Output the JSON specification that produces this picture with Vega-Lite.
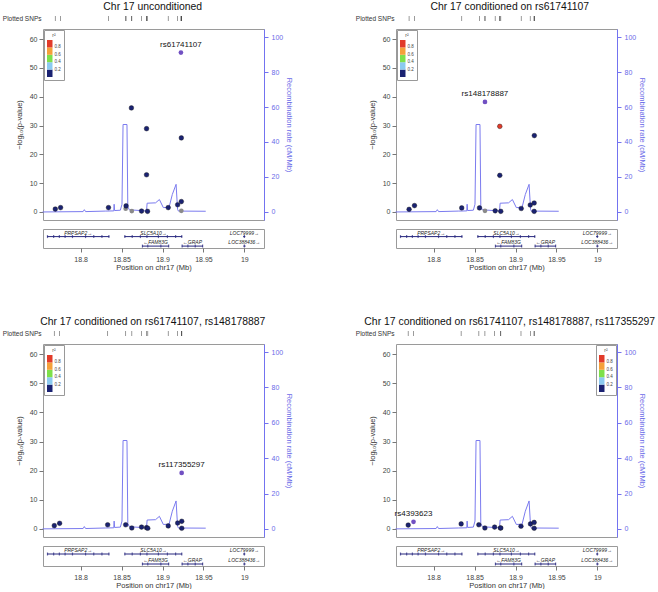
{
  "$schema": "https://vega.github.io/schema/vega-lite/v6.json",
  "padding": {"left": 2, "top": 1, "right": 2, "bottom": 0},
  "background": "white",
  "config": {
    "font": "Liberation Sans",
    "view": {"stroke": "#9a9a9a", "strokeWidth": 1},
    "axis": {"grid": false, "labelFontSize": 7, "labelColor": "#444", "tickColor": "#777", "tickSize": 4, "titleFontSize": 7.5, "titleFontWeight": "normal", "titleColor": "#333", "domain": false},
    "title": {"fontSize": 10.4, "fontWeight": "normal", "anchor": "middle", "offset": 3, "color": "#111"},
    "legend": {"type": "gradient", "direction": "vertical", "gradientLength": 37, "gradientThickness": 5.5, "labelFontSize": 4.5, "titleFontSize": 5, "titleFontWeight": "normal", "labelColor": "#444", "titleColor": "#444", "padding": 3, "strokeColor": "#999", "fillColor": "white", "offset": 1, "labelOverlap": false, "titlePadding": 2, "titleAnchor": "middle", "labelOffset": 2}
  },
  "datasets": {
    "snps": [
      {"p": 1, "pos": 18.769, "logp": 1.0, "r2": 0.1},
      {"p": 1, "pos": 18.7755, "logp": 1.5, "r2": 0.1},
      {"p": 1, "pos": 18.834, "logp": 1.5, "r2": 0.1},
      {"p": 1, "pos": 18.855, "logp": 1.1, "r2": null},
      {"p": 1, "pos": 18.8555, "logp": 2.1, "r2": 0.1},
      {"p": 1, "pos": 18.862, "logp": 36.1, "r2": 0.1},
      {"p": 1, "pos": 18.8625, "logp": 0.3, "r2": null},
      {"p": 1, "pos": 18.8744, "logp": 0.3, "r2": 0.1},
      {"p": 1, "pos": 18.8817, "logp": 0.2, "r2": 0.1},
      {"p": 1, "pos": 18.8805, "logp": 12.9, "r2": 0.1},
      {"p": 1, "pos": 18.8805, "logp": 28.9, "r2": 0.1},
      {"p": 1, "pos": 18.907, "logp": 1.5, "r2": 0.1},
      {"p": 1, "pos": 18.9185, "logp": 2.5, "r2": 0.1},
      {"p": 1, "pos": 18.923, "logp": 3.6, "r2": 0.1},
      {"p": 1, "pos": 18.923, "logp": 0.4, "r2": null},
      {"p": 1, "pos": 18.923, "logp": 25.7, "r2": 0.1},
      {"p": 1, "pos": 18.9225, "logp": 55.3, "r2": 1, "ref": true, "label": "rs61741107"},
      {"p": 2, "pos": 18.770, "logp": 0.9, "r2": 0.1},
      {"p": 2, "pos": 18.7766, "logp": 2.2, "r2": 0.1},
      {"p": 2, "pos": 18.8343, "logp": 1.4, "r2": 0.1},
      {"p": 2, "pos": 18.856, "logp": 1.4, "r2": 0.1},
      {"p": 2, "pos": 18.8627, "logp": 0.4, "r2": null},
      {"p": 2, "pos": 18.8627, "logp": 38.2, "r2": 1, "ref": true, "label": "rs148178887"},
      {"p": 2, "pos": 18.8752, "logp": 0.4, "r2": 0.1},
      {"p": 2, "pos": 18.882, "logp": 0.2, "r2": 0.1},
      {"p": 2, "pos": 18.8808, "logp": 12.7, "r2": 0.1},
      {"p": 2, "pos": 18.8808, "logp": 29.7, "r2": 0.9},
      {"p": 2, "pos": 18.907, "logp": 1.2, "r2": 0.1},
      {"p": 2, "pos": 18.918, "logp": 2.4, "r2": 0.1},
      {"p": 2, "pos": 18.9228, "logp": 3.1, "r2": 0.1},
      {"p": 2, "pos": 18.9228, "logp": 0.2, "r2": 0.1},
      {"p": 2, "pos": 18.923, "logp": 26.5, "r2": 0.1},
      {"p": 3, "pos": 18.7678, "logp": 1.1, "r2": 0.1},
      {"p": 3, "pos": 18.7743, "logp": 1.9, "r2": 0.1},
      {"p": 3, "pos": 18.833, "logp": 1.4, "r2": 0.1},
      {"p": 3, "pos": 18.855, "logp": 1.4, "r2": 0.1},
      {"p": 3, "pos": 18.8625, "logp": 0.3, "r2": 0.1},
      {"p": 3, "pos": 18.8744, "logp": 0.6, "r2": 0.1},
      {"p": 3, "pos": 18.8805, "logp": 0.4, "r2": 0.1},
      {"p": 3, "pos": 18.882, "logp": 0.2, "r2": 0.1},
      {"p": 3, "pos": 18.907, "logp": 1.0, "r2": 0.1},
      {"p": 3, "pos": 18.9185, "logp": 2.0, "r2": 0.1},
      {"p": 3, "pos": 18.9235, "logp": 2.6, "r2": 0.1},
      {"p": 3, "pos": 18.9235, "logp": 0.2, "r2": 0.1},
      {"p": 3, "pos": 18.9234, "logp": 19.2, "r2": 1, "ref": true, "label": "rs117355297"},
      {"p": 4, "pos": 18.7689, "logp": 1.3, "r2": 0.1},
      {"p": 4, "pos": 18.7754, "logp": 2.4, "r2": 1, "ref": true, "label": "rs4393623"},
      {"p": 4, "pos": 18.8336, "logp": 1.7, "r2": 0.1},
      {"p": 4, "pos": 18.8552, "logp": 1.4, "r2": 0.1},
      {"p": 4, "pos": 18.8626, "logp": 0.3, "r2": 0.1},
      {"p": 4, "pos": 18.8745, "logp": 0.6, "r2": 0.1},
      {"p": 4, "pos": 18.8816, "logp": 0.3, "r2": 0.1},
      {"p": 4, "pos": 18.882, "logp": 0.3, "r2": 0.1},
      {"p": 4, "pos": 18.9067, "logp": 0.9, "r2": 0.1},
      {"p": 4, "pos": 18.9183, "logp": 1.7, "r2": 0.1},
      {"p": 4, "pos": 18.9228, "logp": 2.2, "r2": 0.1},
      {"p": 4, "pos": 18.9228, "logp": 0.2, "r2": 0.1}
    ],
    "recomb": [
      {"pos": 18.7535, "rate": 0.0},
      {"pos": 18.803, "rate": 0.2},
      {"pos": 18.8045, "rate": 1.3},
      {"pos": 18.806, "rate": 0.2},
      {"pos": 18.83, "rate": 0.5},
      {"pos": 18.8405, "rate": 0.6},
      {"pos": 18.8409, "rate": 4.4},
      {"pos": 18.8415, "rate": 0.8},
      {"pos": 18.8485, "rate": 1.0},
      {"pos": 18.8505, "rate": 4.4},
      {"pos": 18.8518, "rate": 50},
      {"pos": 18.8566, "rate": 50},
      {"pos": 18.8576, "rate": 3.0},
      {"pos": 18.8595, "rate": 1.2},
      {"pos": 18.8805, "rate": 0.6},
      {"pos": 18.8812, "rate": 5.0},
      {"pos": 18.8915, "rate": 5.2},
      {"pos": 18.8962, "rate": 7.1},
      {"pos": 18.901, "rate": 2.5},
      {"pos": 18.908, "rate": 2.6},
      {"pos": 18.912, "rate": 10.0},
      {"pos": 18.9166, "rate": 15.8},
      {"pos": 18.9184, "rate": 1.5},
      {"pos": 18.9195, "rate": 0.5},
      {"pos": 18.9528, "rate": 0.4}
    ],
    "genes": [
      {"gene": "PRPSAP2", "start": 18.759, "end": 18.835, "row": 1, "mid": 18.797, "label": "PRPSAP2→"},
      {"gene": "SLC5A10", "start": 18.8535, "end": 18.924, "row": 1, "mid": 18.889, "label": "SLC5A10→"},
      {"gene": "FAM83G", "start": 18.875, "end": 18.908, "row": 2, "mid": 18.8915, "label": "←FAM83G"},
      {"gene": "GRAP", "start": 18.9235, "end": 18.9495, "row": 2, "mid": 18.9365, "label": "←GRAP"},
      {"gene": "LOC79999", "start": 18.9985, "end": 19.0012, "row": 1, "mid": 19.0, "label": "LOC79999→"},
      {"gene": "LOC388436", "start": 18.9988, "end": 19.0015, "row": 2, "mid": 19.0, "label": "LOC388436→"}
    ],
    "exons": [
      {"pos": 18.7595, "row": 1}, {"pos": 18.767, "row": 1}, {"pos": 18.774, "row": 1}, {"pos": 18.781, "row": 1},
      {"pos": 18.79, "row": 1}, {"pos": 18.806, "row": 1}, {"pos": 18.816, "row": 1}, {"pos": 18.826, "row": 1}, {"pos": 18.8345, "row": 1},
      {"pos": 18.854, "row": 1}, {"pos": 18.863, "row": 1}, {"pos": 18.873, "row": 1}, {"pos": 18.881, "row": 1},
      {"pos": 18.895, "row": 1}, {"pos": 18.906, "row": 1}, {"pos": 18.916, "row": 1}, {"pos": 18.9235, "row": 1},
      {"pos": 18.8755, "row": 2}, {"pos": 18.882, "row": 2}, {"pos": 18.898, "row": 2}, {"pos": 18.9075, "row": 2},
      {"pos": 18.924, "row": 2}, {"pos": 18.931, "row": 2}, {"pos": 18.94, "row": 2}, {"pos": 18.949, "row": 2},
      {"pos": 19.0, "row": 1}, {"pos": 19.0, "row": 2}
    ]
  },
  "spacing": 45,
  "resolve": {"scale": {"color": "independent"}, "legend": {"color": "independent"}},
  "vconcat": [
    {
      "hconcat": [
        {
          "title": {"text": "Chr 17 unconditioned", "dx": 5},
          "spacing": 6,
          "resolve": {"scale": {"color": "independent"}, "legend": {"color": "independent"}},
          "vconcat": [
            {
              "width": 221, "height": 5,
              "view": {"stroke": null},
              "data": {"name": "snps"},
              "transform": [{"filter": "datum.p == 1"}],
              "mark": {"type": "tick", "orient": "vertical", "color": "#333", "thickness": 0.7, "size": 5},
              "encoding": {
                "x": {"field": "pos", "type": "quantitative", "scale": {"domain": [18.754, 19.024], "nice": false, "zero": false}, "axis": null},
                "y": {"datum": "Plotted SNPs", "type": "nominal", "axis": {"title": null, "ticks": false, "labelFontSize": 6.5, "labelColor": "#333", "labelPadding": 2}}
              }
            },
            {
              "spacing": 7,
              "resolve": {"scale": {"color": "independent"}, "legend": {"color": "independent"}},
              "vconcat": [
                {
                  "width": 221, "height": 191,
                  "resolve": {"scale": {"y": "independent"}},
                  "layer": [
                    {
                      "data": {"name": "recomb"},
                      "mark": {"type": "line", "color": "#7b7bef", "strokeWidth": 1},
                      "encoding": {
                        "x": {"field": "pos", "type": "quantitative", "scale": {"domain": [18.754, 19.024], "nice": false, "zero": false}, "axis": null},
                        "y": {"field": "rate", "type": "quantitative", "scale": {"domain": [-4.6, 104.6], "nice": false, "zero": false}, "axis": {"orient": "right", "values": [0, 20, 40, 60, 80, 100], "title": "Recombination rate (cM/Mb)", "domain": true, "domainColor": "#7373f0", "tickColor": "#7373f0", "labelColor": "#6a6ae8", "titleColor": "#6a6ae8", "labelPadding": 3, "titlePadding": 2}}
                      }
                    },
                    {
                      "data": {"name": "snps"},
                      "transform": [{"filter": "datum.p == 1"}],
                      "encoding": {
                        "x": {"field": "pos", "type": "quantitative", "scale": {"domain": [18.754, 19.024], "nice": false, "zero": false}, "axis": null},
                        "y": {"field": "logp", "type": "quantitative", "scale": {"domain": [-2.8, 63.5], "nice": false, "zero": false}, "axis": {"orient": "left", "values": [0, 10, 20, 30, 40, 50, 60], "title": "−log₁₀(p-value)", "titlePadding": 6}}
                      },
                      "layer": [
                        {"transform": [{"filter": "datum.r2 == null"}], "mark": {"type": "circle", "size": 22, "opacity": 1, "color": "#8a8a8a"}},
                        {"transform": [{"filter": "datum.r2 != null && !datum.ref"}], "mark": {"type": "circle", "size": 22, "opacity": 1, "stroke": "#111", "strokeWidth": 0.4},
                         "encoding": {"color": {"field": "r2", "type": "quantitative", "scale": {"type": "threshold", "domain": [0.2, 0.4, 0.6, 0.8], "range": ["#1a2272", "#8ccaf0", "#7ee04a", "#f5a03a", "#e23b2a"]}, "legend": {"title": "r²", "orient": "top-left"}}}},
                        {"transform": [{"filter": "datum.ref"}], "mark": {"type": "circle", "size": 22, "opacity": 1, "color": "#7150c2"}},
                        {"transform": [{"filter": "datum.ref"}], "mark": {"type": "text", "dy": -8, "fontSize": 8, "color": "#111"}, "encoding": {"text": {"field": "label"}}}
                      ]
                    }
                  ]
                },
                {
                  "width": 221, "height": 19,
                  "layer": [
                    {
                      "data": {"name": "genes"},
                      "mark": {"type": "rule", "color": "#26267e", "strokeWidth": 1},
                      "encoding": {
                        "x": {"field": "start", "type": "quantitative", "scale": {"domain": [18.754, 19.024], "nice": false, "zero": false}, "axis": {"values": [18.8, 18.85, 18.9, 18.95, 19], "format": "~g", "title": "Position on chr17 (Mb)", "labelPadding": 3, "titlePadding": 1}},
                        "x2": {"field": "end"},
                        "y": {"field": "row", "type": "quantitative", "scale": {"domain": [0.3, 2.15], "reverse": true}, "axis": null}
                      }
                    },
                    {
                      "data": {"name": "exons"},
                      "mark": {"type": "tick", "orient": "vertical", "color": "#26267e", "size": 3, "thickness": 1.2},
                      "encoding": {"x": {"field": "pos", "type": "quantitative"}, "y": {"field": "row", "type": "quantitative"}}
                    },
                    {
                      "data": {"name": "genes"},
                      "mark": {"type": "text", "fontSize": 5, "fontStyle": "italic", "dy": -4, "color": "#222"},
                      "encoding": {"x": {"field": "mid", "type": "quantitative"}, "y": {"field": "row", "type": "quantitative"}, "text": {"field": "label"}}
                    }
                  ]
                }
              ]
            }
          ]
        },
        {
          "title": {"text": "Chr 17 conditioned on rs61741107", "dx": 9},
          "spacing": 6,
          "resolve": {"scale": {"color": "independent"}, "legend": {"color": "independent"}},
          "vconcat": [
            {
              "width": 221, "height": 5,
              "view": {"stroke": null},
              "data": {"name": "snps"},
              "transform": [{"filter": "datum.p == 2"}],
              "mark": {"type": "tick", "orient": "vertical", "color": "#333", "thickness": 0.7, "size": 5},
              "encoding": {
                "x": {"field": "pos", "type": "quantitative", "scale": {"domain": [18.754, 19.024], "nice": false, "zero": false}, "axis": null},
                "y": {"datum": "Plotted SNPs", "type": "nominal", "axis": {"title": null, "ticks": false, "labelFontSize": 6.5, "labelColor": "#333", "labelPadding": 2}}
              }
            },
            {
              "spacing": 7,
              "resolve": {"scale": {"color": "independent"}, "legend": {"color": "independent"}},
              "vconcat": [
                {
                  "width": 221, "height": 191,
                  "resolve": {"scale": {"y": "independent"}},
                  "layer": [
                    {
                      "data": {"name": "recomb"},
                      "mark": {"type": "line", "color": "#7b7bef", "strokeWidth": 1},
                      "encoding": {
                        "x": {"field": "pos", "type": "quantitative", "scale": {"domain": [18.754, 19.024], "nice": false, "zero": false}, "axis": null},
                        "y": {"field": "rate", "type": "quantitative", "scale": {"domain": [-4.6, 104.6], "nice": false, "zero": false}, "axis": {"orient": "right", "values": [0, 20, 40, 60, 80, 100], "title": "Recombination rate (cM/Mb)", "domain": true, "domainColor": "#7373f0", "tickColor": "#7373f0", "labelColor": "#6a6ae8", "titleColor": "#6a6ae8", "labelPadding": 3, "titlePadding": 2}}
                      }
                    },
                    {
                      "data": {"name": "snps"},
                      "transform": [{"filter": "datum.p == 2"}],
                      "encoding": {
                        "x": {"field": "pos", "type": "quantitative", "scale": {"domain": [18.754, 19.024], "nice": false, "zero": false}, "axis": null},
                        "y": {"field": "logp", "type": "quantitative", "scale": {"domain": [-2.8, 63.5], "nice": false, "zero": false}, "axis": {"orient": "left", "values": [0, 10, 20, 30, 40, 50, 60], "title": "−log₁₀(p-value)", "titlePadding": 6}}
                      },
                      "layer": [
                        {"transform": [{"filter": "datum.r2 == null"}], "mark": {"type": "circle", "size": 22, "opacity": 1, "color": "#8a8a8a"}},
                        {"transform": [{"filter": "datum.r2 != null && !datum.ref"}], "mark": {"type": "circle", "size": 22, "opacity": 1, "stroke": "#111", "strokeWidth": 0.4},
                         "encoding": {"color": {"field": "r2", "type": "quantitative", "scale": {"type": "threshold", "domain": [0.2, 0.4, 0.6, 0.8], "range": ["#1a2272", "#8ccaf0", "#7ee04a", "#f5a03a", "#e23b2a"]}, "legend": {"title": "r²", "orient": "top-left"}}}},
                        {"transform": [{"filter": "datum.ref"}], "mark": {"type": "circle", "size": 22, "opacity": 1, "color": "#7150c2"}},
                        {"transform": [{"filter": "datum.ref"}], "mark": {"type": "text", "dy": -8, "fontSize": 8, "color": "#111"}, "encoding": {"text": {"field": "label"}}}
                      ]
                    }
                  ]
                },
                {
                  "width": 221, "height": 19,
                  "layer": [
                    {
                      "data": {"name": "genes"},
                      "mark": {"type": "rule", "color": "#26267e", "strokeWidth": 1},
                      "encoding": {
                        "x": {"field": "start", "type": "quantitative", "scale": {"domain": [18.754, 19.024], "nice": false, "zero": false}, "axis": {"values": [18.8, 18.85, 18.9, 18.95, 19], "format": "~g", "title": "Position on chr17 (Mb)", "labelPadding": 3, "titlePadding": 1}},
                        "x2": {"field": "end"},
                        "y": {"field": "row", "type": "quantitative", "scale": {"domain": [0.3, 2.15], "reverse": true}, "axis": null}
                      }
                    },
                    {
                      "data": {"name": "exons"},
                      "mark": {"type": "tick", "orient": "vertical", "color": "#26267e", "size": 3, "thickness": 1.2},
                      "encoding": {"x": {"field": "pos", "type": "quantitative"}, "y": {"field": "row", "type": "quantitative"}}
                    },
                    {
                      "data": {"name": "genes"},
                      "mark": {"type": "text", "fontSize": 5, "fontStyle": "italic", "dy": -4, "color": "#222"},
                      "encoding": {"x": {"field": "mid", "type": "quantitative"}, "y": {"field": "row", "type": "quantitative"}, "text": {"field": "label"}}
                    }
                  ]
                }
              ]
            }
          ]
        }
      ],
      "spacing": 61,
      "resolve": {"scale": {"color": "independent"}, "legend": {"color": "independent"}}
    },
    {
      "hconcat": [
        {
          "title": {"text": "Chr 17 conditioned on rs61741107, rs148178887", "dx": 5},
          "spacing": 6,
          "resolve": {"scale": {"color": "independent"}, "legend": {"color": "independent"}},
          "vconcat": [
            {
              "width": 221, "height": 5,
              "view": {"stroke": null},
              "data": {"name": "snps"},
              "transform": [{"filter": "datum.p == 3"}],
              "mark": {"type": "tick", "orient": "vertical", "color": "#333", "thickness": 0.7, "size": 5},
              "encoding": {
                "x": {"field": "pos", "type": "quantitative", "scale": {"domain": [18.754, 19.024], "nice": false, "zero": false}, "axis": null},
                "y": {"datum": "Plotted SNPs", "type": "nominal", "axis": {"title": null, "ticks": false, "labelFontSize": 6.5, "labelColor": "#333", "labelPadding": 2}}
              }
            },
            {
              "spacing": 7,
              "resolve": {"scale": {"color": "independent"}, "legend": {"color": "independent"}},
              "vconcat": [
                {
                  "width": 221, "height": 193,
                  "resolve": {"scale": {"y": "independent"}},
                  "layer": [
                    {
                      "data": {"name": "recomb"},
                      "mark": {"type": "line", "color": "#7b7bef", "strokeWidth": 1},
                      "encoding": {
                        "x": {"field": "pos", "type": "quantitative", "scale": {"domain": [18.754, 19.024], "nice": false, "zero": false}, "axis": null},
                        "y": {"field": "rate", "type": "quantitative", "scale": {"domain": [-4.6, 104.6], "nice": false, "zero": false}, "axis": {"orient": "right", "values": [0, 20, 40, 60, 80, 100], "title": "Recombination rate (cM/Mb)", "domain": true, "domainColor": "#7373f0", "tickColor": "#7373f0", "labelColor": "#6a6ae8", "titleColor": "#6a6ae8", "labelPadding": 3, "titlePadding": 2}}
                      }
                    },
                    {
                      "data": {"name": "snps"},
                      "transform": [{"filter": "datum.p == 3"}],
                      "encoding": {
                        "x": {"field": "pos", "type": "quantitative", "scale": {"domain": [18.754, 19.024], "nice": false, "zero": false}, "axis": null},
                        "y": {"field": "logp", "type": "quantitative", "scale": {"domain": [-2.8, 63.5], "nice": false, "zero": false}, "axis": {"orient": "left", "values": [0, 10, 20, 30, 40, 50, 60], "title": "−log₁₀(p-value)", "titlePadding": 6}}
                      },
                      "layer": [
                        {"transform": [{"filter": "datum.r2 == null"}], "mark": {"type": "circle", "size": 22, "opacity": 1, "color": "#8a8a8a"}},
                        {"transform": [{"filter": "datum.r2 != null && !datum.ref"}], "mark": {"type": "circle", "size": 22, "opacity": 1, "stroke": "#111", "strokeWidth": 0.4},
                         "encoding": {"color": {"field": "r2", "type": "quantitative", "scale": {"type": "threshold", "domain": [0.2, 0.4, 0.6, 0.8], "range": ["#1a2272", "#8ccaf0", "#7ee04a", "#f5a03a", "#e23b2a"]}, "legend": {"title": "r²", "orient": "top-left"}}}},
                        {"transform": [{"filter": "datum.ref"}], "mark": {"type": "circle", "size": 22, "opacity": 1, "color": "#7150c2"}},
                        {"transform": [{"filter": "datum.ref"}], "mark": {"type": "text", "dy": -8, "fontSize": 8, "color": "#111"}, "encoding": {"text": {"field": "label"}}}
                      ]
                    }
                  ]
                },
                {
                  "width": 221, "height": 20,
                  "layer": [
                    {
                      "data": {"name": "genes"},
                      "mark": {"type": "rule", "color": "#26267e", "strokeWidth": 1},
                      "encoding": {
                        "x": {"field": "start", "type": "quantitative", "scale": {"domain": [18.754, 19.024], "nice": false, "zero": false}, "axis": {"values": [18.8, 18.85, 18.9, 18.95, 19], "format": "~g", "title": "Position on chr17 (Mb)", "labelPadding": 3, "titlePadding": 1}},
                        "x2": {"field": "end"},
                        "y": {"field": "row", "type": "quantitative", "scale": {"domain": [0.3, 2.15], "reverse": true}, "axis": null}
                      }
                    },
                    {
                      "data": {"name": "exons"},
                      "mark": {"type": "tick", "orient": "vertical", "color": "#26267e", "size": 3, "thickness": 1.2},
                      "encoding": {"x": {"field": "pos", "type": "quantitative"}, "y": {"field": "row", "type": "quantitative"}}
                    },
                    {
                      "data": {"name": "genes"},
                      "mark": {"type": "text", "fontSize": 5, "fontStyle": "italic", "dy": -4, "color": "#222"},
                      "encoding": {"x": {"field": "mid", "type": "quantitative"}, "y": {"field": "row", "type": "quantitative"}, "text": {"field": "label"}}
                    }
                  ]
                }
              ]
            }
          ]
        },
        {
          "title": {"text": "Chr 17 conditioned on rs61741107, rs148178887, rs117355297", "dx": 9},
          "spacing": 6,
          "resolve": {"scale": {"color": "independent"}, "legend": {"color": "independent"}},
          "vconcat": [
            {
              "width": 221, "height": 5,
              "view": {"stroke": null},
              "data": {"name": "snps"},
              "transform": [{"filter": "datum.p == 4"}],
              "mark": {"type": "tick", "orient": "vertical", "color": "#333", "thickness": 0.7, "size": 5},
              "encoding": {
                "x": {"field": "pos", "type": "quantitative", "scale": {"domain": [18.754, 19.024], "nice": false, "zero": false}, "axis": null},
                "y": {"datum": "Plotted SNPs", "type": "nominal", "axis": {"title": null, "ticks": false, "labelFontSize": 6.5, "labelColor": "#333", "labelPadding": 2}}
              }
            },
            {
              "spacing": 7,
              "resolve": {"scale": {"color": "independent"}, "legend": {"color": "independent"}},
              "vconcat": [
                {
                  "width": 221, "height": 193,
                  "resolve": {"scale": {"y": "independent"}},
                  "layer": [
                    {
                      "data": {"name": "recomb"},
                      "mark": {"type": "line", "color": "#7b7bef", "strokeWidth": 1},
                      "encoding": {
                        "x": {"field": "pos", "type": "quantitative", "scale": {"domain": [18.754, 19.024], "nice": false, "zero": false}, "axis": null},
                        "y": {"field": "rate", "type": "quantitative", "scale": {"domain": [-4.6, 104.6], "nice": false, "zero": false}, "axis": {"orient": "right", "values": [0, 20, 40, 60, 80, 100], "title": "Recombination rate (cM/Mb)", "domain": true, "domainColor": "#7373f0", "tickColor": "#7373f0", "labelColor": "#6a6ae8", "titleColor": "#6a6ae8", "labelPadding": 3, "titlePadding": 2}}
                      }
                    },
                    {
                      "data": {"name": "snps"},
                      "transform": [{"filter": "datum.p == 4"}],
                      "encoding": {
                        "x": {"field": "pos", "type": "quantitative", "scale": {"domain": [18.754, 19.024], "nice": false, "zero": false}, "axis": null},
                        "y": {"field": "logp", "type": "quantitative", "scale": {"domain": [-2.8, 63.5], "nice": false, "zero": false}, "axis": {"orient": "left", "values": [0, 10, 20, 30, 40, 50, 60], "title": "−log₁₀(p-value)", "titlePadding": 6}}
                      },
                      "layer": [
                        {"transform": [{"filter": "datum.r2 == null"}], "mark": {"type": "circle", "size": 22, "opacity": 1, "color": "#8a8a8a"}},
                        {"transform": [{"filter": "datum.r2 != null && !datum.ref"}], "mark": {"type": "circle", "size": 22, "opacity": 1, "stroke": "#111", "strokeWidth": 0.4},
                         "encoding": {"color": {"field": "r2", "type": "quantitative", "scale": {"type": "threshold", "domain": [0.2, 0.4, 0.6, 0.8], "range": ["#1a2272", "#8ccaf0", "#7ee04a", "#f5a03a", "#e23b2a"]}, "legend": {"title": "r²", "orient": "top-right"}}}},
                        {"transform": [{"filter": "datum.ref"}], "mark": {"type": "circle", "size": 22, "opacity": 1, "color": "#7150c2"}},
                        {"transform": [{"filter": "datum.ref"}], "mark": {"type": "text", "dy": -8, "fontSize": 8, "color": "#111"}, "encoding": {"text": {"field": "label"}}}
                      ]
                    }
                  ]
                },
                {
                  "width": 221, "height": 20,
                  "layer": [
                    {
                      "data": {"name": "genes"},
                      "mark": {"type": "rule", "color": "#26267e", "strokeWidth": 1},
                      "encoding": {
                        "x": {"field": "start", "type": "quantitative", "scale": {"domain": [18.754, 19.024], "nice": false, "zero": false}, "axis": {"values": [18.8, 18.85, 18.9, 18.95, 19], "format": "~g", "title": "Position on chr17 (Mb)", "labelPadding": 3, "titlePadding": 1}},
                        "x2": {"field": "end"},
                        "y": {"field": "row", "type": "quantitative", "scale": {"domain": [0.3, 2.15], "reverse": true}, "axis": null}
                      }
                    },
                    {
                      "data": {"name": "exons"},
                      "mark": {"type": "tick", "orient": "vertical", "color": "#26267e", "size": 3, "thickness": 1.2},
                      "encoding": {"x": {"field": "pos", "type": "quantitative"}, "y": {"field": "row", "type": "quantitative"}}
                    },
                    {
                      "data": {"name": "genes"},
                      "mark": {"type": "text", "fontSize": 5, "fontStyle": "italic", "dy": -4, "color": "#222"},
                      "encoding": {"x": {"field": "mid", "type": "quantitative"}, "y": {"field": "row", "type": "quantitative"}, "text": {"field": "label"}}
                    }
                  ]
                }
              ]
            }
          ]
        }
      ],
      "spacing": 61,
      "resolve": {"scale": {"color": "independent"}, "legend": {"color": "independent"}}
    }
  ]
}
